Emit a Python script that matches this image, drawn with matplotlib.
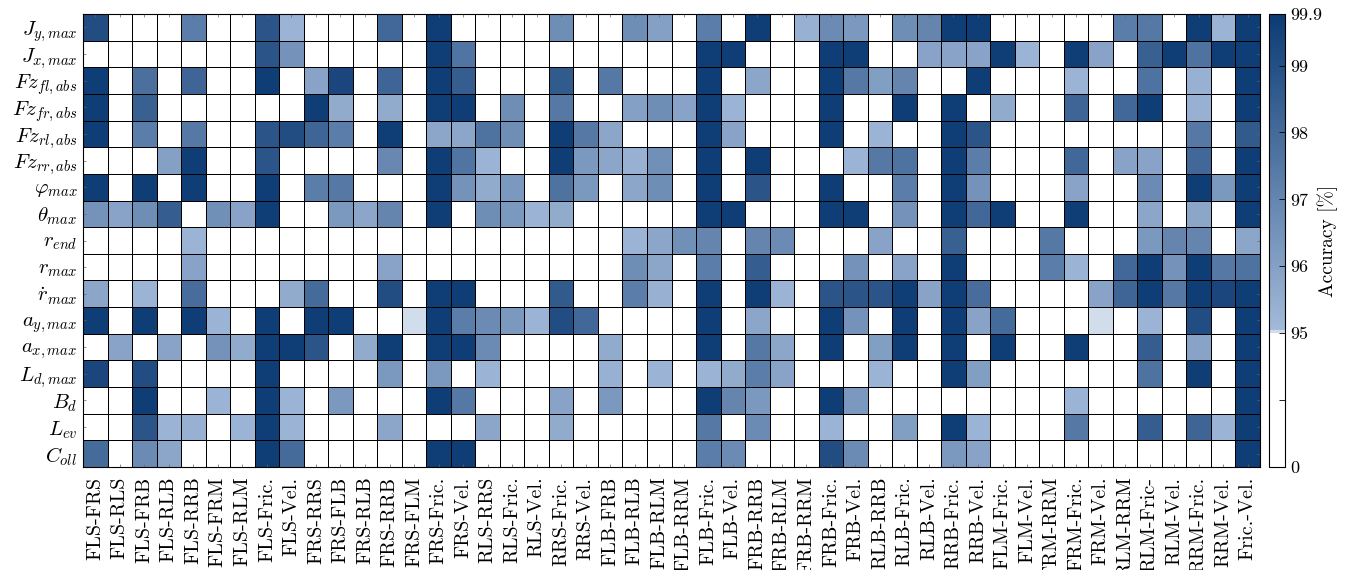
import numpy as np
import matplotlib
matplotlib.use("Agg")
import matplotlib.pyplot as plt
from matplotlib.colors import ListedColormap, to_rgb

plt.rcParams['font.family'] = 'cmr10'
plt.rcParams['mathtext.fontset'] = 'cm'
plt.rcParams['axes.formatter.use_mathtext'] = True

# Zeilen (Kennwerte)
row_labels = [r'$J_{y,max}$', r'$J_{x,max}$', r'$Fz_{fl,abs}$', r'$Fz_{fr,abs}$',
              r'$Fz_{rl,abs}$', r'$Fz_{rr,abs}$', r'$\varphi_{max}$', r'$\theta_{max}$',
              r'$r_{end}$', r'$r_{max}$', r'$\dot{r}_{max}$', r'$a_{y,max}$',
              r'$a_{x,max}$', r'$L_{d,max}$', r'$B_d$', r'$L_{ev}$', r'$C_{oll}$']

# Spalten (Fehlerkombinationen)
col_labels = ['FLS-FRS', 'FLS-RLS', 'FLS-FRB', 'FLS-RLB', 'FLS-RRB', 'FLS-FRM', 'FLS-RLM',
              'FLS-Fric.', 'FLS-Vel.', 'FRS-RRS', 'FRS-FLB', 'FRS-RLB', 'FRS-RRB', 'FRS-FLM',
              'FRS-Fric.', 'FRS-Vel.', 'RLS-RRS', 'RLS-Fric.', 'RLS-Vel.', 'RRS-Fric.',
              'RRS-Vel.', 'FLB-FRB', 'FLB-RLB', 'FLB-RLM', 'FLB-RRM', 'FLB-Fric.', 'FLB-Vel.',
              'FRB-RRB', 'FRB-RLM', 'FRB-RRM', 'FRB-Fric.', 'FRB-Vel.', 'RLB-RRB', 'RLB-Fric.',
              'RLB-Vel.', 'RRB-Fric.', 'RRB-Vel.', 'FLM-Fric.', 'FLM-Vel.', 'FRM-RRM',
              'FRM-Fric.', 'FRM-Vel.', 'RLM-RRM', 'RLM-Fric-', 'RLM-Vel.', 'RRM-Fric.',
              'RRM-Vel.', 'Fric.-Vel.']

# Genauigkeit [%] (Werte < 95 erscheinen weiss)
acc_jy = [99.1, 90, 90, 90, 97.3, 90, 90, 98.8, 95.3, 90, 90, 90, 98.1, 90, 99.8, 90,
          90, 90, 90, 96.7, 90, 90, 96.7, 96.0, 90, 97.3, 90, 99.8, 90, 95.4, 96.8, 96.3,
          90, 96.7, 97.0, 99.8, 99.8, 90, 90, 90, 90, 90, 97.3, 97.5, 90, 99.8, 95.3, 99.8]
acc_jx = [90, 90, 90, 90, 90, 90, 90, 98.8, 96.5, 90, 90, 90, 90, 90, 99.8, 97.6,
          90, 90, 90, 90, 90, 90, 90, 90, 90, 99.8, 99.8, 90, 90, 90, 99.8, 99.8,
          90, 90, 95.9, 95.9, 95.9, 99.8, 95.3, 90, 99.8, 95.9, 90, 98.4, 99.8, 97.7, 99.8, 99.8]
acc_fzfl = [99.8, 90, 97.8, 90, 98.2, 90, 90, 99.8, 90, 95.9, 99.4, 90, 98.2, 90, 99.8, 98.5,
            90, 90, 90, 98.6, 90, 97.5, 90, 90, 90, 99.8, 90, 95.8, 90, 90, 99.8, 97.5,
            96.1, 97.0, 90, 90, 99.8, 90, 90, 90, 95.3, 90, 90, 97.7, 90, 95.4, 90, 99.8]
acc_fzfr = [99.8, 90, 98.4, 90, 90, 90, 90, 90, 90, 99.8, 95.6, 90, 95.6, 90, 99.8, 99.8,
            90, 96.7, 90, 97.5, 90, 90, 96.0, 96.7, 95.9, 99.8, 95.3, 90, 90, 90, 99.8, 90,
            90, 99.8, 90, 99.8, 90, 95.6, 90, 90, 98.2, 90, 98.1, 99.8, 90, 95.4, 90, 99.8]
acc_fzrl = [99.8, 90, 97.3, 90, 97.5, 90, 90, 98.8, 99.1, 98.2, 97.3, 90, 99.8, 90, 95.8, 95.8,
            97.7, 96.7, 90, 99.8, 97.5, 95.8, 90, 90, 90, 99.8, 95.9, 90, 90, 90, 99.8, 90,
            95.3, 90, 90, 99.8, 98.8, 90, 90, 90, 90, 90, 90, 90, 90, 97.5, 90, 98.6]
acc_fzrr = [90, 90, 90, 96.0, 99.8, 90, 90, 98.8, 90, 90, 90, 90, 96.9, 90, 99.8, 97.6,
            95.3, 90, 90, 99.8, 96.3, 95.8, 95.4, 96.6, 90, 99.8, 90, 99.8, 90, 90, 90, 95.3,
            97.5, 97.7, 90, 99.8, 97.3, 90, 90, 90, 98.1, 90, 95.9, 95.9, 90, 98.1, 90, 99.8]
acc_phi = [99.8, 90, 99.8, 90, 99.8, 90, 90, 99.8, 90, 97.3, 97.5, 90, 90, 90, 99.8, 96.5,
           95.6, 96.3, 90, 97.7, 96.3, 90, 95.8, 96.7, 90, 99.8, 90, 98.8, 90, 90, 99.8, 90,
           90, 97.3, 90, 99.8, 96.5, 90, 90, 90, 95.9, 90, 90, 96.8, 90, 99.8, 96.3, 99.8]
acc_theta = [96.5, 95.9, 96.7, 98.5, 90, 96.6, 95.9, 99.8, 90, 90, 96.3, 95.8, 97.0, 90, 99.8, 90,
             96.7, 96.3, 95.3, 95.6, 90, 90, 90, 90, 90, 99.8, 99.8, 90, 90, 90, 99.8, 99.8,
             90, 96.5, 90, 99.8, 98.1, 99.8, 90, 90, 99.8, 90, 90, 95.8, 90, 95.8, 90, 99.8]
acc_rend = [90, 90, 90, 90, 95.3, 90, 90, 90, 90, 90, 90, 90, 90, 90, 90, 90,
            90, 90, 90, 90, 90, 90, 95.3, 95.8, 96.6, 97.0, 90, 97.0, 96.8, 90, 90, 90,
            95.9, 90, 90, 98.4, 90, 90, 90, 97.5, 90, 90, 90, 96.3, 97.0, 97.0, 90, 95.8]
acc_rmax = [90, 90, 90, 90, 95.9, 90, 90, 90, 90, 90, 90, 90, 95.9, 90, 90, 90,
            90, 90, 90, 90, 90, 90, 96.7, 95.8, 90, 97.3, 90, 98.5, 90, 90, 90, 96.5,
            90, 95.9, 90, 99.8, 90, 90, 90, 97.3, 95.3, 90, 98.1, 99.8, 96.5, 99.8, 97.5, 97.7]
acc_rdot = [95.8, 90, 95.3, 90, 97.9, 90, 90, 90, 95.6, 98.0, 90, 90, 99.1, 90, 99.8, 99.8,
            90, 90, 90, 98.6, 90, 90, 97.3, 95.4, 90, 99.8, 90, 99.8, 95.3, 90, 98.8, 98.8,
            98.8, 99.8, 95.9, 99.8, 97.9, 90, 90, 90, 90, 95.9, 98.2, 99.8, 97.5, 99.8, 99.4, 99.8]
acc_ay = [99.8, 90, 99.8, 90, 99.8, 95.3, 90, 99.8, 90, 99.8, 99.8, 90, 90, 95.02, 99.8, 97.3,
          96.8, 96.3, 95.3, 99.1, 98.1, 90, 90, 90, 90, 99.8, 90, 95.8, 90, 90, 99.8, 96.5,
          90, 99.8, 90, 99.8, 95.9, 98.0, 90, 90, 90, 95.02, 90, 95.3, 90, 99.1, 90, 99.8]
acc_ax = [90, 95.9, 90, 95.9, 90, 96.5, 95.6, 99.8, 99.8, 98.8, 90, 95.6, 99.8, 90, 99.8, 99.8,
          96.8, 90, 90, 90, 90, 95.6, 90, 90, 90, 99.8, 90, 97.5, 95.8, 90, 99.8, 90,
          96.1, 99.8, 90, 99.8, 90, 99.8, 90, 90, 99.8, 90, 90, 98.5, 90, 95.9, 90, 99.8]
acc_ld = [99.4, 90, 99.1, 90, 90, 90, 90, 99.8, 90, 90, 90, 90, 96.3, 90, 96.3, 90,
          95.3, 90, 90, 90, 90, 95.4, 90, 95.3, 90, 95.3, 95.6, 97.3, 95.9, 90, 90, 90,
          95.3, 90, 90, 99.8, 96.1, 90, 90, 90, 90, 90, 90, 97.7, 90, 99.8, 90, 99.8]
acc_bd = [90, 90, 99.8, 90, 90, 95.3, 90, 99.8, 95.3, 90, 96.3, 90, 90, 90, 99.8, 97.5,
          90, 90, 90, 95.9, 90, 96.3, 90, 90, 90, 99.8, 97.0, 96.3, 90, 90, 99.8, 96.3,
          90, 90, 90, 90, 90, 90, 90, 90, 95.3, 90, 90, 90, 90, 90, 90, 99.8]
acc_lev = [90, 90, 98.8, 95.3, 95.4, 90, 95.3, 99.8, 95.3, 90, 90, 90, 95.8, 90, 90, 90,
           95.8, 90, 90, 95.6, 90, 90, 90, 90, 90, 97.5, 90, 96.8, 90, 90, 95.3, 90,
           90, 96.1, 90, 99.8, 95.3, 90, 90, 90, 97.5, 90, 90, 98.5, 90, 98.2, 95.3, 99.8]
acc_coll = [98.0, 90, 96.8, 95.8, 90, 90, 90, 99.8, 98.0, 90, 90, 90, 90, 90, 99.8, 99.8,
            90, 90, 90, 90, 90, 90, 90, 90, 90, 97.3, 96.8, 90, 90, 90, 99.1, 96.8,
            90, 90, 90, 96.3, 95.9, 90, 90, 90, 90, 90, 90, 90, 90, 90, 90, 99.8]

# Farbskala: Wert -> Position auf dem Farbbalken
cbar_vals = [0, 47.5, 95, 96, 97, 98, 99, 99.9]
cbar_pos = [0, 1, 2, 3, 4, 5, 6, 6.77]
cbar_labels = ['0', '', '95', '96', '97', '98', '99', '99.9']


def main():
    data = np.array([acc_jy, acc_jx, acc_fzfl, acc_fzfr, acc_fzrl, acc_fzrr, acc_phi,
                     acc_theta, acc_rend, acc_rmax, acc_rdot, acc_ay, acc_ax, acc_ld,
                     acc_bd, acc_lev, acc_coll])
    pos = np.array(cbar_pos) / cbar_pos[-1]
    c = np.interp(data, cbar_vals, pos)

    # Colormap: weiss unter 95, dann hellblau -> dunkelblau
    n = 2048
    t = np.linspace(0, 1, n)
    p95 = pos[2]
    band = p95 + 0.007
    lo = np.array(to_rgb('#a3bad9'))
    hi = np.array(to_rgb('#0c3b74'))
    frac = np.clip((t - band) / (1 - band), 0, 1)[:, None]
    cols = lo + frac * (hi - lo)
    cols[t < band] = to_rgb('#d2ddeb')
    cols[t < p95] = (1, 1, 1)
    cmap = ListedColormap(cols)

    W, H = 1345, 570
    fig = plt.figure(figsize=(W / 100, H / 100), dpi=100)
    ax = fig.add_axes([83 / W, 1 - 467 / H, (1260 - 83) / W, (467 - 14) / H])
    mesh = ax.pcolormesh(np.arange(len(col_labels) + 1), np.arange(len(row_labels) + 1), c,
                         cmap=cmap, vmin=0, vmax=1, edgecolors='k', linewidth=0.6)
    ax.set_xlim(0, len(col_labels))
    ax.set_ylim(len(row_labels), 0)
    ax.set_xticks(np.arange(len(col_labels)) + 0.5)
    ax.set_xticklabels(col_labels, rotation=90, fontsize=14.5)
    ax.set_yticks(np.arange(len(row_labels)) + 0.5)
    ax.set_yticklabels(row_labels, fontsize=15)
    ax.tick_params(direction='in', length=2.5, width=0.5, color='#666666',
                   top=True, right=True)
    ax.tick_params(axis='x', pad=7)
    ax.tick_params(axis='y', pad=4)

    cax = fig.add_axes([1269 / W, 1 - 467 / H, 16 / W, (467 - 14) / H])
    cb = fig.colorbar(mesh, cax=cax, ticks=pos)
    cb.ax.set_yticklabels(cbar_labels, fontsize=13)
    cb.ax.tick_params(direction='in', length=4, width=0.6, pad=4)
    cb.outline.set_linewidth(0.8)
    cb.set_label('Accuracy [%]', fontsize=14, labelpad=-4)

    fig.savefig('out.png', dpi=100)


if __name__ == "__main__":
    main()
